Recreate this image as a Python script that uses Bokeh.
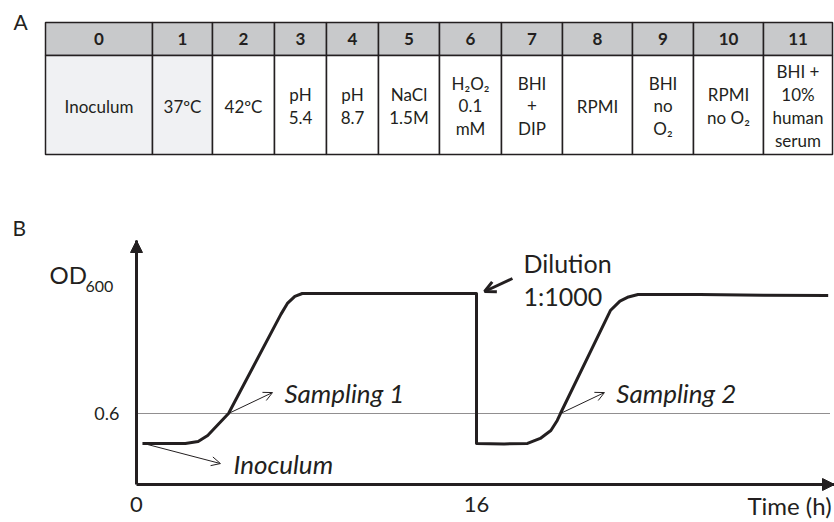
from bokeh.plotting import figure
from bokeh.layouts import column
from bokeh.models import (Range1d, Arrow, NormalHead, OpenHead, Label, FixedTicker,
                          ColumnDataSource)
from bokeh.core.properties import value
from bokeh.embed import file_html
from bokeh.resources import INLINE

# ---------------- data ----------------
condition_ids = ["0", "1", "2", "3", "4", "5", "6", "7", "8", "9", "10", "11"]
condition_labels = ["Inoculum", "37ºC", "42ºC", "pH\n5.4", "pH\n8.7", "NaCl\n1.5M",
                    "H₂O₂\n0.1\nmM", "BHI\n+\nDIP", "RPMI", "BHI\nno\nO₂",
                    "RPMI\nno O₂", "BHI +\n10%\nhuman\nserum"]
shaded = [True, True, False, False, False, False, False, False, False, False, False, False]

time_h = [0.28, 2.3, 2.9, 3.35, 3.75, 4.33, 6.8, 7.1, 7.45, 7.8, 11.0, 16.0,
          16.0, 17.3, 18.4, 19.0, 19.5, 19.8, 19.95, 22.3, 22.75, 23.15, 23.6,
          26.5, 29.5, 32.55]
od_600 = [0.347, 0.347, 0.363, 0.414, 0.49, 0.6, 1.44, 1.53, 1.59, 1.614, 1.614, 1.614,
          0.347, 0.343, 0.347, 0.389, 0.456, 0.541, 0.6, 1.47, 1.55, 1.585, 1.606,
          1.606, 1.60, 1.598]

sample_times = [4.33, 19.95]
sample_od = [0.6, 0.6]
sample_names = ["Sampling 1", "Sampling 2"]
threshold_od = 0.6
dilution_time = 16.0
x_ticks = [0, 16]
time_max = 32.847
od_max = 2.062

# ---------------- style / layout ----------------
INK = "#231f20"
FONT = "Lato"
col_widths = [107, 60, 62, 52, 52, 61, 62, 61, 70, 61, 70, 69]
table_left, table_top, head_bottom, table_bottom = 45, 22, 55, 154

# ---------------- panel A: table ----------------
ta = figure(width=834, height=162, x_range=Range1d(0, 834), y_range=Range1d(162, 0),
            output_backend="svg", toolbar_location=None, min_border=0)
ta.axis.visible = False
ta.grid.visible = False
ta.outline_line_color = None
ta.frame_align = False

lefts, rights = [], []
x = table_left
for w in col_widths:
    lefts.append(x)
    rights.append(x + w)
    x += w
centers = [(l + r) / 2 for l, r in zip(lefts, rights)]
body_fill = ["#f0f1f3" if s else "white" for s in shaded]

ta.quad(left=lefts, right=rights, top=[table_top] * 12, bottom=[head_bottom] * 12,
        fill_color="#c8c9cb", line_color=INK, line_width=1.5)
ta.quad(left=lefts, right=rights, top=[head_bottom] * 12, bottom=[table_bottom] * 12,
        fill_color=body_fill, line_color=INK, line_width=1.5)
ta.text(x=centers, y=[(table_top + head_bottom) / 2] * 12, text=condition_ids,
        text_font=value(FONT), text_font_style="bold", text_font_size="17px",
        text_align="center", text_baseline="middle", text_color=INK)
ta.text(x=centers, y=[(head_bottom + table_bottom) / 2 + 1] * 12, text=condition_labels,
        text_font=value(FONT), text_font_size="17px", text_line_height=1.08,
        text_align="center", text_baseline="middle", text_color=INK)
ta.text(x=[13], y=[21], text=["A"], text_font=value(FONT), text_font_size="21px",
        text_align="left", text_baseline="middle", text_color=INK)

# ---------------- panel B: growth schematic ----------------
# frame fills the whole canvas; axes are pinned at 0 with fixed_location
pb = figure(width=834, height=360, x_range=Range1d(-6.4, time_max),
            y_range=Range1d(-0.3211, 2.7212),
            output_backend="svg", toolbar_location=None, min_border=0)
pb.grid.visible = False
pb.outline_line_color = None
pb.frame_align = False

for ax in (pb.xaxis[0], pb.yaxis[0]):
    ax.fixed_location = 0
    ax.axis_line_width = 3
    ax.axis_line_color = INK
    ax.major_tick_line_color = None
    ax.minor_tick_line_color = None
    ax.major_label_text_font = FONT
    ax.major_label_text_color = INK
pb.xaxis.bounds = (0, time_max)
pb.xaxis.ticker = FixedTicker(ticks=x_ticks)
pb.xaxis.major_label_text_font_size = "22px"
pb.xaxis.major_label_standoff = 6
pb.yaxis.bounds = (0, od_max)
pb.yaxis.ticker = FixedTicker(ticks=[threshold_od])
pb.yaxis.major_label_text_font_size = "18px"
pb.yaxis.major_label_standoff = 11

# dotted reference line at OD 0.6
pb.segment(x0=[0], y0=[threshold_od], x1=[32.65], y1=[threshold_od],
           line_color=INK, line_width=1, line_dash="1 1")

pb.line(time_h, od_600, line_color=INK, line_width=3, line_join="round")

# axis arrow heads
pb.add_layout(Arrow(end=NormalHead(size=12, fill_color=INK, line_color=INK),
                    x_start=0, y_start=od_max - 0.15, x_end=0, y_end=od_max,
                    line_color=INK, line_width=3))
pb.add_layout(Arrow(end=NormalHead(size=12, fill_color=INK, line_color=INK),
                    x_start=time_max - 1.0, y_start=0, x_end=time_max, y_end=0,
                    line_color=INK, line_width=3))

# sampling arrows and labels
arr = ColumnDataSource(dict(x0=sample_times, y0=sample_od,
                            x1=[t + 2.07 for t in sample_times],
                            y1=[o + 0.177 for o in sample_od]))
pb.add_layout(Arrow(end=OpenHead(size=9, line_width=1, line_color=INK), source=arr,
                    x_start="x0", y_start="y0", x_end="x1", y_end="y1",
                    line_color=INK, line_width=1))
for t, o, name in zip(sample_times, sample_od, sample_names):
    pb.add_layout(Label(x=t + 2.63, y=o + 0.177, text=name, text_font=FONT,
                        text_font_size="26px", text_font_style="italic",
                        text_color=INK, text_baseline="middle"))

# inoculum arrow
pb.add_layout(Arrow(end=OpenHead(size=9, line_width=1, line_color=INK),
                    x_start=time_h[0] + 0.05, y_start=od_600[0], x_end=3.95, y_end=0.177,
                    line_color=INK, line_width=1))
pb.add_layout(Label(x=4.56, y=0.177, text="Inoculum", text_font=FONT,
                    text_font_size="26px", text_font_style="italic",
                    text_color=INK, text_baseline="middle"))

# dilution arrow
pb.add_layout(Arrow(end=OpenHead(size=11, line_width=3, line_color=INK),
                    x_start=dilution_time + 1.69, y_start=1.741,
                    x_end=dilution_time + 0.38, y_end=1.631,
                    line_color=INK, line_width=3))
pb.add_layout(Label(x=dilution_time + 2.21, y=1.876, text="Dilution", text_font=FONT,
                    text_font_size="25px", text_color=INK, text_baseline="middle"))
pb.add_layout(Label(x=dilution_time + 2.21, y=1.597, text="1:1000", text_font=FONT,
                    text_font_size="25px", text_color=INK, text_baseline="middle"))

# axis titles
pb.add_layout(Label(x=-4.09, y=1.775, text="OD", text_font=FONT, text_font_size="24px",
                    text_color=INK, text_baseline="middle"))
pb.add_layout(Label(x=-2.40, y=1.673, text="600", text_font=FONT, text_font_size="16px",
                    text_color=INK, text_baseline="middle"))
pb.add_layout(Label(x=32.71, y=-0.177, text="Time (h)", text_font=FONT,
                    text_font_size="24px", text_color=INK, text_align="right",
                    text_baseline="middle"))
pb.add_layout(Label(x=-5.84, y=2.172, text="B", text_font=FONT, text_font_size="21px",
                    text_color=INK, text_baseline="middle"))

layout = column(ta, pb, spacing=0)
open("out.html", "w").write(file_html(layout, INLINE))
